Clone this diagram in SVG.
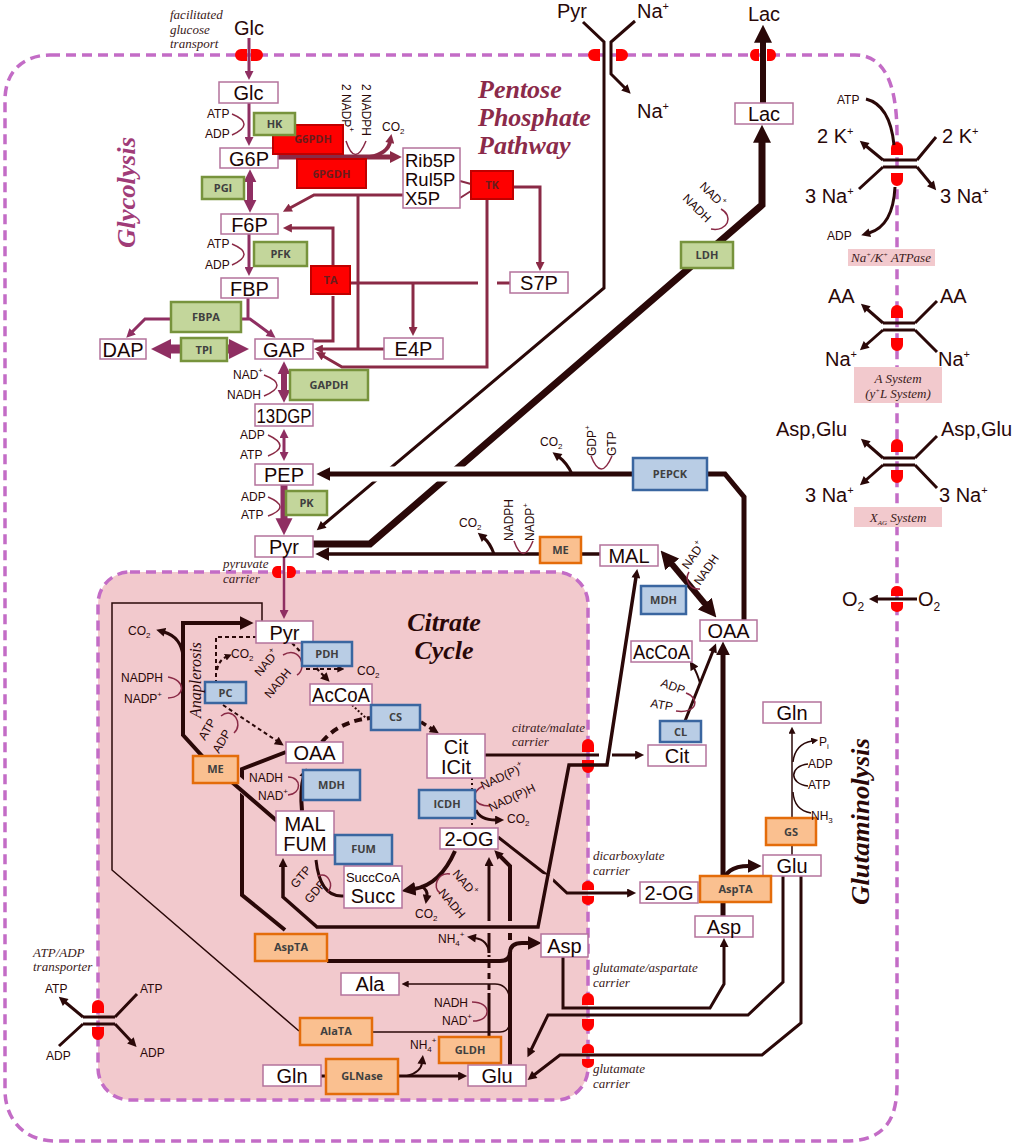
<svg xmlns="http://www.w3.org/2000/svg" width="1019" height="1145" viewBox="0 0 1019 1145">
<defs>
<style>
.nb{fill:#fff;stroke:#b4739c;stroke-width:1.5}
.nt{font-family:"Liberation Sans",Arial,sans-serif;font-size:20px;fill:#1a0505;text-anchor:middle}
.gr{fill:#c3d69b;stroke:#77933c;stroke-width:2.5}
.bl{fill:#b9cde5;stroke:#3a66a0;stroke-width:2.5}
.or{fill:#fac090;stroke:#e46c0a;stroke-width:2.5}
.rd{fill:#fe0000;stroke:#c00000;stroke-width:2}
.et{font-family:"Open Sans","Liberation Sans",sans-serif;font-weight:700;font-size:11px;fill:#404040;text-anchor:middle}
.rt{fill:#6b1c1c}
.sm{font-family:"Liberation Sans",Arial,sans-serif;font-size:12px;fill:#2a0808}
.md{font-family:"Liberation Sans",Arial,sans-serif;font-size:20px;fill:#2a0808}
.it{font-family:"Liberation Serif","Times New Roman",serif;font-style:italic;font-size:13px;fill:#3a1a20}
.tt{font-family:"Liberation Serif","Times New Roman",serif;font-style:italic;font-weight:700}
.cp{fill:none;stroke:#8f2f62}
.cm{fill:none;stroke:#8a2a46}
.cb{fill:none;stroke:#2a0808}
.cr{fill:none;stroke:#8a2a46;stroke-width:1.5}
.hw{fill:none;stroke:#fff}
.hp{fill:none;stroke:#f2c9cd}
.tr{fill:#f00}
.mem{fill:none;stroke:#c36cc6;stroke-width:3.5;stroke-dasharray:10 6}
.lb{fill:#f2c9cd}
</style>
<marker id="mP" viewBox="0 0 10 10" refX="1" refY="5" markerWidth="10" markerHeight="9" markerUnits="userSpaceOnUse" orient="auto-start-reverse"><path d="M0,0L10,5L0,10z" fill="#8f2f62"/></marker>
<marker id="mPM" viewBox="0 0 10 10" refX="1" refY="5" markerWidth="13" markerHeight="14" markerUnits="userSpaceOnUse" orient="auto-start-reverse"><path d="M0,0L10,5L0,10z" fill="#8f2f62"/></marker>
<marker id="mPL" viewBox="0 0 10 10" refX="1" refY="5" markerWidth="17" markerHeight="24" markerUnits="userSpaceOnUse" orient="auto-start-reverse"><path d="M0,0L10,5L0,10z" fill="#8f2f62"/></marker>
<marker id="mPX" viewBox="0 0 10 10" refX="1" refY="5" markerWidth="24" markerHeight="20" markerUnits="userSpaceOnUse" orient="auto-start-reverse"><path d="M0,0L10,5L0,10z" fill="#8f2f62"/></marker>
<marker id="mM" viewBox="0 0 10 10" refX="1" refY="5" markerWidth="10" markerHeight="9" markerUnits="userSpaceOnUse" orient="auto-start-reverse"><path d="M0,0L10,5L0,10z" fill="#8a2a46"/></marker>
<marker id="mML" viewBox="0 0 10 10" refX="1" refY="5" markerWidth="12" markerHeight="12" markerUnits="userSpaceOnUse" orient="auto-start-reverse"><path d="M0,0L10,5L0,10z" fill="#8a2a46"/></marker>
<marker id="mB" viewBox="0 0 10 10" refX="1" refY="5" markerWidth="10" markerHeight="9" markerUnits="userSpaceOnUse" orient="auto-start-reverse"><path d="M0,0L10,5L0,10z" fill="#2a0808"/></marker>
<marker id="mBM" viewBox="0 0 10 10" refX="1" refY="5" markerWidth="14" markerHeight="14" markerUnits="userSpaceOnUse" orient="auto-start-reverse"><path d="M0,0L10,5L0,10z" fill="#2a0808"/></marker>
<marker id="mBL" viewBox="0 0 10 10" refX="1" refY="5" markerWidth="18" markerHeight="18" markerUnits="userSpaceOnUse" orient="auto-start-reverse"><path d="M0,0L10,5L0,10z" fill="#2a0808"/></marker>
<marker id="mBs" viewBox="0 0 10 10" refX="1" refY="5" markerWidth="7" markerHeight="7" markerUnits="userSpaceOnUse" orient="auto-start-reverse"><path d="M0,0L10,5L0,10z" fill="#2a0808"/></marker>
</defs>
<rect width="1019" height="1145" fill="#fff"/>

<g id="cell-membrane">
<path class="mem" d="M50,55 H855 C885,55 897,85 897,135 V1085 C897,1125 880,1141 845,1141 H55 C25,1141 5,1120 5,1090 V100 C5,70 25,55 50,55 Z"/>
</g>
<g id="mitochondrion">
<rect x="98" y="572" width="490" height="528" rx="32" class="mem" style="fill:#f2c9cd"/>
</g>

<g id="transporter-channels">
<path class="tr" d="M247,49 H241 A6,6 0 0 0 241,61 H247 Z M251,49 H257 A6,6 0 0 1 257,61 H251 Z"/>
<path class="tr" d="M600,49 H594 A6,6 0 0 0 594,61 H600 Z M616,49 H622 A6,6 0 0 1 622,61 H616 Z"/>
<path class="tr" d="M759,49 H755 A5,6 0 0 0 755,61 H759 Z M767,49 H771 A5,6 0 0 1 771,61 H767 Z"/>
<path class="tr" d="M281,566 H277 A5,6 0 0 0 277,578 H281 Z M287,566 H291 A5,6 0 0 1 291,578 H287 Z"/>
<path class="tr" d="M891,155 V148 A6,6 0 0 1 903,148 V155 Z M891,173 V180 A6,6 0 0 0 903,180 V173 Z"/>
<path class="tr" d="M891,318 V311 A6,6 0 0 1 903,311 V318 Z M891,338 V345 A6,6 0 0 0 903,345 V338 Z"/>
<path class="tr" d="M891,452 V445 A6,6 0 0 1 903,445 V452 Z M891,470 V477 A6,6 0 0 0 903,477 V470 Z"/>
<path class="tr" d="M891,596 V591 A6,5 0 0 1 903,591 V596 Z M891,602 V607 A6,5 0 0 0 903,607 V602 Z"/>
<path class="tr" d="M582,752 V745 A6,6 0 0 1 594,745 V752 Z M582,760 V767 A6,6 0 0 0 594,767 V760 Z"/>
<path class="tr" d="M582,890 V886 A6,5 0 0 1 594,886 V890 Z M582,896 V900 A6,5 0 0 0 594,900 V896 Z"/>
<path class="tr" d="M582,1005 V999 A6,6 0 0 1 594,999 V1005 Z M582,1019 V1025 A6,6 0 0 0 594,1025 V1019 Z"/>
<path class="tr" d="M582,1053 V1049 A6,5 0 0 1 594,1049 V1053 Z M582,1059 V1063 A6,5 0 0 0 594,1063 V1059 Z"/>
<path class="tr" d="M92,1013 V1006 A6,6 0 0 1 104,1006 V1013 Z M92,1027 V1034 A6,6 0 0 0 104,1034 V1027 Z"/>
</g>

<g id="connectors">
<path class="cp" stroke-width="3" d="M249,38 V72" marker-end="url(#mP)"/>
<path class="cp" stroke-width="3" d="M249,103 V138" marker-end="url(#mP)"/>
<path class="cr" d="M232,114 Q256,124 232,135"/>
<path class="cp" stroke-width="6" d="M250,181 V201" marker-start="url(#mPM)" marker-end="url(#mPM)"/>
<path class="cp" stroke-width="3" d="M249,234 V268" marker-end="url(#mP)"/>
<path class="cr" d="M232,244 Q256,254 232,265"/>
<path class="cp" stroke-width="3" d="M248,319 V290" marker-end="url(#mP)"/>
<path class="cp" stroke-width="3" d="M171,319 H145 L132,332" marker-end="url(#mP)"/>
<path class="cp" stroke-width="3" d="M241,319 H250 L269,333" marker-end="url(#mP)"/>
<path class="cp" stroke-width="9" d="M169,349 H231" marker-start="url(#mPX)" marker-end="url(#mPX)"/>
<path class="cp" stroke-width="6" d="M284,373 V391" marker-start="url(#mPM)" marker-end="url(#mPM)"/>
<path class="cr" d="M264,375 Q290,385 264,396"/>
<path class="cp" stroke-width="3" d="M284,437 V453" marker-start="url(#mP)" marker-end="url(#mP)"/>
<path class="cr" d="M268,435 Q292,446 268,456"/>
<path class="cp" stroke-width="7" d="M284,485 V520" marker-end="url(#mPL)"/>
<path class="cr" d="M268,497 Q292,507 268,516"/>
<path class="cp" stroke-width="2.5" d="M284,557 V611" marker-end="url(#mP)"/>
<path class="cm" stroke-width="5" d="M278,157 H391" marker-end="url(#mML)"/>
<path class="cm" stroke-width="4" d="M370,157 Q388,153 390,142" marker-end="url(#mM)"/>
<path class="cr" d="M346,141 Q355,168 366,141"/>
<path class="cm" stroke-width="3" d="M403,195 H314 L290,208" marker-end="url(#mM)"/>
<path class="cm" stroke-width="3" d="M358,195 V348"/>
<path class="cm" stroke-width="3" d="M333,266 V228 H291" marker-end="url(#mM)"/>
<path class="cm" stroke-width="3" d="M333,296 V341 H313"/>
<path class="cm" stroke-width="3" d="M384,349 H322" marker-end="url(#mM)"/>
<path class="cm" stroke-width="3" d="M487,199 V367 H342 L323,356" marker-end="url(#mM)"/>
<path class="cm" stroke-width="3" d="M350,283 H478 M497,283 H510"/>
<path class="cm" stroke-width="3" d="M413,283 V328" marker-end="url(#mM)"/>
<path class="cm" stroke-width="3" d="M513,187 H540 V263" marker-end="url(#mM)"/>
<path class="cm" stroke-width="2" d="M460,181 L471,184 M460,198 L471,191"/>
<path class="cb" stroke-width="3" d="M583,22 L604,42 V288 L323,525" marker-end="url(#mB)"/>
<path class="cb" stroke-width="3" d="M635,21 L611,42 V74 L625,88" marker-end="url(#mB)"/>
<path class="cb" stroke-width="7" d="M313,544 H370 L762,205 V141" marker-end="url(#mBL)"/>
<path class="cb" stroke-width="6" d="M763,103 V41" marker-end="url(#mBL)"/>
<path class="cr" d="M721,209 C734,216 728,232 711,229"/>
<path class="cb" stroke-width="5" d="M744,620 V497 L725,474 H707"/>
<path class="hw" stroke-width="15" d="M345,474 H620"/>
<path class="cb" stroke-width="5" d="M633,474 H329" marker-end="url(#mBM)"/>
<path class="cb" stroke-width="3" d="M572,474 Q567,463 559,457" marker-end="url(#mB)"/>
<path class="cr" d="M591,456 Q601,482 612,456"/>
<path class="cb" stroke-width="3.5" d="M600,554 H581 M540,554 H328" marker-end="url(#mBM)"/>
<path class="cb" stroke-width="3" d="M494,554 Q490,543 484,538" marker-end="url(#mB)"/>
<path class="cr" d="M514,541 Q523,566 533,541"/>
<path class="cb" stroke-width="6" d="M671,563 L706,605" marker-start="url(#mBL)" marker-end="url(#mBL)"/>
<path class="cr" d="M689,572 C684,580 690,590 700,589"/>
<path class="cb" stroke-width="3" d="M485,755 H599"/>
<path class="cb" stroke-width="3" d="M612,755 H636" marker-end="url(#mB)"/>
<path class="cb" stroke-width="3" d="M685,721 L713,651" marker-end="url(#mB)"/>
<path class="cb" stroke-width="2" d="M700,683 Q697,673 694,668" marker-end="url(#mB)"/>
<path class="cr" d="M686,693 C700,698 698,714 676,711"/>
<path class="cb" stroke-width="5" d="M723,916 V654" marker-end="url(#mBM)"/>
<path class="cb" stroke-width="4" d="M723,885 Q724,866 749,866" marker-end="url(#mBM)"/>
<path class="cb" stroke-width="3" d="M563,957 V1008 H710 L724,984 V946" marker-end="url(#mB)"/>
<path class="cb" stroke-width="3" d="M783,876 V982 L748,1015 H548 L531,1050" marker-end="url(#mB)"/>
<path class="cb" stroke-width="3" d="M801,876 V1023 L762,1055 H560 L534,1075" marker-end="url(#mB)"/>
<path class="cb" stroke-width="1.5" d="M792,855 V733" marker-end="url(#mBs)"/>
<path class="cb" stroke-width="1.5" d="M811,813 Q794,810 793,792 M808,764 C789,766 789,784 808,786"/>
<path class="cb" stroke-width="1.5" d="M793,762 Q795,744 812,741" marker-end="url(#mBs)"/>
<path class="cb" stroke-width="3" d="M498,837 L553,880 L567,893 H628" marker-end="url(#mB)"/>
<path class="cb" stroke-width="3" d="M883,160 H917 M883,167 H917 M917,160 L936,137 M883,167 L859,189"/>
<path class="cb" stroke-width="3" d="M883,160 L866,146" marker-end="url(#mB)"/>
<path class="cb" stroke-width="3" d="M917,167 L931,184" marker-end="url(#mB)"/>
<path class="cb" stroke-width="3" d="M866,99 Q890,105 894,145"/>
<path class="cb" stroke-width="3" d="M895,187 Q893,226 869,233" marker-end="url(#mB)"/>
<path class="cb" stroke-width="3" d="M883,323 H915 M883,330 H915 M915,323 L937,301 M915,330 L937,352"/>
<path class="cb" stroke-width="3" d="M883,323 L867,309" marker-end="url(#mB)"/>
<path class="cb" stroke-width="3" d="M883,330 L866,345" marker-end="url(#mB)"/>
<path class="cb" stroke-width="3" d="M883,458 H915 M883,465 H915 M915,458 L937,436 M915,465 L937,488"/>
<path class="cb" stroke-width="3" d="M883,458 L867,444" marker-end="url(#mB)"/>
<path class="cb" stroke-width="3" d="M883,465 L866,480" marker-end="url(#mB)"/>
<path class="cb" stroke-width="3" d="M917,599 H877" marker-end="url(#mB)"/>
<path class="cb" stroke-width="3" d="M83,1017 H115 M83,1024 H115 M115,1017 L137,994 M83,1024 L59,1046"/>
<path class="cb" stroke-width="3" d="M83,1017 L65,1002" marker-end="url(#mB)"/>
<path class="cb" stroke-width="3" d="M115,1024 L131,1041" marker-end="url(#mB)"/>
<path class="cb" stroke-width="1.5" d="M299,1031 L112,870 V603 H262 V621"/>
<path class="cb" stroke-width="2.2" stroke-dasharray="4 3" d="M292,643 L324,676" marker-end="url(#mB)"/>
<path class="cb" stroke-width="2" stroke-dasharray="4 3" d="M306,669 H338" marker-end="url(#mBs)"/>
<path class="cr" d="M283,655 C300,645 308,668 297,675"/>
<path class="cb" stroke-width="2" stroke-dasharray="4 3" d="M257,637 H216 V682"/>
<path class="cb" stroke-width="2" stroke-dasharray="4 3" d="M217,670 Q219,660 226,657" marker-end="url(#mBs)"/>
<path class="cb" stroke-width="2" stroke-dasharray="4 3" d="M223,705 L277,741" marker-end="url(#mB)"/>
<path class="cr" d="M221,716 C233,706 244,724 234,733"/>
<path class="cb" stroke-width="2" stroke-dasharray="2 2" d="M352,705 L366,718"/>
<path class="cb" stroke-width="3.5" stroke-dasharray="6 4" d="M421,722 L432,729" marker-end="url(#mB)"/>
<path class="cb" stroke-width="4" stroke-dasharray="8 5" d="M322,742 Q338,722 370,718"/>
<path class="cb" stroke-width="2" stroke-dasharray="2 3" d="M472,778 V790 M472,818 V828"/>
<path class="cr" d="M483,786 C470,792 472,806 490,806"/>
<path class="cb" stroke-width="3" d="M476,810 Q480,820 496,820" marker-end="url(#mB)"/>
<path class="cb" stroke-width="4" d="M455,851 Q440,885 414,889" marker-end="url(#mBM)"/>
<path class="cb" stroke-width="3" d="M421,886 Q428,890 427,896" marker-end="url(#mB)"/>
<path class="cr" d="M450,874 C437,872 432,888 440,893"/>
<path class="cb" stroke-width="3" d="M344,896 Q320,898 316,860"/>
<path class="cr" d="M318,876 C328,872 334,884 328,892"/>
<path class="cb" stroke-width="4" d="M302,811 Q300,790 304,776" marker-end="url(#mB)"/>
<path class="cr" d="M288,777 C302,777 302,794 288,795"/>
<path class="cb" stroke-width="4" d="M286,752 L242,769 V895 L285,930"/>
<path class="cb" stroke-width="4" d="M327,961 H500 Q510,961 510,952"/>
<path class="cb" stroke-width="4" d="M510,1065 V953 Q510,943 522,943 H529" marker-end="url(#mBM)"/>
<path class="cb" stroke-width="4" d="M510,940 V866 L500,856" marker-end="url(#mB)"/>
<path class="cb" stroke-width="3" d="M489,1037 V993 M489,953 V865" marker-end="url(#mB)"/>
<path class="cb" stroke-width="3" stroke-dasharray="6 5" d="M489,990 V955"/>
<path class="cb" stroke-width="2" d="M489,953 Q488,940 475,938" marker-end="url(#mB)"/>
<path class="cr" d="M472,1002 C492,1002 492,1021 473,1021"/>
<path class="cb" stroke-width="1.5" d="M510,1000 Q508,984 495,984 H408" marker-end="url(#mBs)"/>
<path class="cb" stroke-width="1.5" d="M372,1032 H500 Q510,1032 510,1020"/>
<path class="cb" stroke-width="3" d="M321,1076 H326 M398,1076 H459" marker-end="url(#mB)"/>
<path class="cb" stroke-width="2" d="M407,1076 Q421,1072 422,1063" marker-end="url(#mB)"/>
<path class="hp" stroke-width="12" d="M272,812 L210,759"/>
<path class="cb" stroke-width="4" d="M277,821 L204,758 L183,735 V623 H241" marker-end="url(#mBM)"/>
<path class="cb" stroke-width="3" d="M183,656 Q181,637 164,632" marker-end="url(#mB)"/>
<path class="cr" d="M168,677 C186,680 186,697 168,698"/>
<path class="hp" stroke-width="12" d="M325,927 H538 L548,875"/>
<path class="cb" stroke-width="3.5" d="M283,866 V897 L317,927 H538 L569,765 H607 L636,577" marker-start="url(#mB)" marker-end="url(#mB)"/>
</g>

<g id="nodes">
<g id="n-glc"><rect class="nb" x="219" y="82" width="59" height="21"/><text class="nt" x="248.5" y="100">Glc</text></g>
<g id="n-g6p"><rect class="nb" x="220" y="148" width="58" height="20"/><text class="nt" x="249" y="166">G6P</text></g>
<g id="n-f6p"><rect class="nb" x="221" y="214" width="57" height="20"/><text class="nt" x="249.5" y="232">F6P</text></g>
<g id="n-fbp"><rect class="nb" x="221" y="278" width="57" height="20"/><text class="nt" x="249.5" y="296">FBP</text></g>
<g id="n-dap"><rect class="nb" x="100" y="339" width="46" height="20"/><text class="nt" x="123" y="357">DAP</text></g>
<g id="n-gap"><rect class="nb" x="255" y="339" width="58" height="20"/><text class="nt" x="284" y="357">GAP</text></g>
<g id="n-13dgp"><rect class="nb" x="255" y="404" width="58" height="22"/><text class="nt" x="284" y="423" textLength="55" lengthAdjust="spacingAndGlyphs">13DGP</text></g>
<g id="n-pep"><rect class="nb" x="255" y="464" width="58" height="21"/><text class="nt" x="284" y="482">PEP</text></g>
<g id="n-pyr"><rect class="nb" x="255" y="536" width="58" height="21"/><text class="nt" x="284" y="554">Pyr</text></g>
<g id="n-rib5p"><rect class="nb" x="403" y="148" width="57" height="60"/><text class="nt" style="text-anchor:start;font-size:18.5px"><tspan x="405" y="166.5">Rib5P</tspan><tspan x="405" y="185.8">Rul5P</tspan><tspan x="405" y="205.1">X5P</tspan></text></g>
<g id="n-s7p"><rect class="nb" x="510" y="272" width="58" height="21"/><text class="nt" x="539" y="290">S7P</text></g>
<g id="n-e4p"><rect class="nb" x="384" y="338" width="59" height="21"/><text class="nt" x="413.5" y="356">E4P</text></g>
<g id="n-lac"><rect class="nb" x="735" y="103" width="58" height="21"/><text class="nt" x="764" y="121">Lac</text></g>
<g id="n-mal-c"><rect class="nb" x="600" y="545" width="58" height="21"/><text class="nt" x="629" y="563">MAL</text></g>
<g id="n-oaa-c"><rect class="nb" x="700" y="620" width="57" height="21"/><text class="nt" x="728.5" y="638">OAA</text></g>
<g id="n-accoa-c"><rect class="nb" x="631" y="641" width="61" height="21"/><text class="nt" x="661.5" y="659" textLength="57" lengthAdjust="spacingAndGlyphs">AcCoA</text></g>
<g id="n-cit-c"><rect class="nb" x="648" y="745" width="58" height="21"/><text class="nt" x="677" y="763">Cit</text></g>
<g id="n-gln-c"><rect class="nb" x="763" y="702" width="58" height="21"/><text class="nt" x="792" y="720">Gln</text></g>
<g id="n-glu-c"><rect class="nb" x="763" y="855" width="58" height="21"/><text class="nt" x="792" y="873">Glu</text></g>
<g id="n-2og-c"><rect class="nb" x="640" y="882" width="58" height="21"/><text class="nt" x="669" y="900">2-OG</text></g>
<g id="n-asp-c"><rect class="nb" x="695" y="916" width="58" height="21"/><text class="nt" x="724" y="934">Asp</text></g>
<g id="n-pyr-m"><rect class="nb" x="256" y="621" width="57" height="22"/><text class="nt" x="284.5" y="640">Pyr</text></g>
<g id="n-accoa-m"><rect class="nb" x="310" y="684" width="62" height="21"/><text class="nt" x="341" y="702" textLength="58" lengthAdjust="spacingAndGlyphs">AcCoA</text></g>
<g id="n-cit-m"><rect class="nb" x="427" y="734" width="58" height="44"/><text class="nt"><tspan x="456" y="754">Cit</tspan><tspan x="456" y="774">ICit</tspan></text></g>
<g id="n-2og-m"><rect class="nb" x="440" y="828" width="58" height="21"/><text class="nt" x="469" y="846">2-OG</text></g>
<g id="n-malfum-m"><rect class="nb" x="276" y="811" width="58" height="44"/><text class="nt"><tspan x="305" y="831">MAL</tspan><tspan x="305" y="851">FUM</tspan></text></g>
<g id="n-oaa-m"><rect class="nb" x="286" y="742" width="57" height="21"/><text class="nt" x="314.5" y="760">OAA</text></g>
<g id="n-succ-m"><rect class="nb" x="344" y="866" width="58" height="42"/><text class="nt"><tspan x="373" y="882" style="font-size:13px">SuccCoA</tspan><tspan x="373" y="903">Succ</tspan></text></g>
<g id="n-asp-m"><rect class="nb" x="541" y="934" width="47" height="23"/><text class="nt" x="564.5" y="953">Asp</text></g>
<g id="n-ala-m"><rect class="nb" x="341" y="973" width="58" height="22"/><text class="nt" x="370" y="991">Ala</text></g>
<g id="n-gln-m"><rect class="nb" x="263" y="1065" width="58" height="21"/><text class="nt" x="292" y="1083">Gln</text></g>
<g id="n-glu-m"><rect class="nb" x="468" y="1065" width="58" height="21"/><text class="nt" x="497" y="1083">Glu</text></g>
</g>

<g id="enzymes">
<g id="e-g6pdh"><rect class="rd" x="273" y="125" width="70" height="29"/><text class="et rt" x="313" y="143">G6PDH</text></g>
<g id="e-6pgdh"><rect class="rd" x="297" y="159" width="69" height="29"/><text class="et rt" x="331.5" y="178">6PGDH</text></g>
<g id="e-tk"><rect class="rd" x="471" y="171" width="42" height="28"/><text class="et rt" x="492" y="189">TK</text></g>
<g id="e-ta"><rect class="rd" x="311" y="266" width="39" height="28"/><text class="et rt" x="330.5" y="284">TA</text></g>
<g id="e-hk"><rect class="gr" x="254" y="113" width="41" height="22"/><text class="et" x="274.5" y="128">HK</text></g>
<g id="e-pgi"><rect class="gr" x="202" y="177" width="42" height="22"/><text class="et" x="223" y="192">PGI</text></g>
<g id="e-pfk"><rect class="gr" x="254" y="242" width="53" height="24"/><text class="et" x="280.5" y="258">PFK</text></g>
<g id="e-fbpa"><rect class="gr" x="171" y="302" width="70" height="30"/><text class="et" x="206" y="321">FBPA</text></g>
<g id="e-tpi"><rect class="gr" x="181" y="338" width="46" height="23"/><text class="et" x="204" y="354">TPI</text></g>
<g id="e-gapdh"><rect class="gr" x="290" y="370" width="78" height="30"/><text class="et" x="329" y="389">GAPDH</text></g>
<g id="e-pk"><rect class="gr" x="286" y="491" width="41" height="24"/><text class="et" x="306.5" y="507">PK</text></g>
<g id="e-ldh"><rect class="gr" x="681" y="242" width="52" height="26"/><text class="et" x="707" y="259">LDH</text></g>
<g id="e-pepck"><rect class="bl" x="633" y="458" width="74" height="32"/><text class="et" x="670" y="478">PEPCK</text></g>
<g id="e-me-c"><rect class="or" x="540" y="537" width="41" height="26"/><text class="et" x="560.5" y="554">ME</text></g>
<g id="e-mdh-c"><rect class="bl" x="641" y="586" width="45" height="28"/><text class="et" x="663.5" y="604">MDH</text></g>
<g id="e-cl"><rect class="bl" x="660" y="721" width="41" height="21"/><text class="et" x="680.5" y="736">CL</text></g>
<g id="e-gs"><rect class="or" x="766" y="818" width="50" height="27"/><text class="et" x="791" y="836">GS</text></g>
<g id="e-asptac"><rect class="or" x="700" y="876" width="71" height="26"/><text class="et" x="735.5" y="893">AspTA</text></g>
<g id="e-pdh"><rect class="bl" x="302" y="642" width="50" height="24"/><text class="et" x="327" y="658">PDH</text></g>
<g id="e-pc"><rect class="bl" x="205" y="682" width="41" height="21"/><text class="et" x="225.5" y="697">PC</text></g>
<g id="e-cs"><rect class="bl" x="371" y="705" width="49" height="25"/><text class="et" x="395.5" y="721">CS</text></g>
<g id="e-icdh"><rect class="bl" x="419" y="790" width="56" height="28"/><text class="et" x="447" y="808">ICDH</text></g>
<g id="e-fum"><rect class="bl" x="335" y="835" width="57" height="29"/><text class="et" x="363.5" y="853">FUM</text></g>
<g id="e-mdh-m"><rect class="bl" x="303" y="770" width="57" height="30"/><text class="et" x="331.5" y="789">MDH</text></g>
<g id="e-me-m"><rect class="or" x="193" y="756" width="45" height="27"/><text class="et" x="215.5" y="773">ME</text></g>
<g id="e-aspta-m"><rect class="or" x="255" y="934" width="72" height="27"/><text class="et" x="291" y="951">AspTA</text></g>
<g id="e-alata"><rect class="or" x="300" y="1018" width="72" height="27"/><text class="et" x="336" y="1035">AlaTA</text></g>
<g id="e-gldh"><rect class="or" x="439" y="1037" width="62" height="26"/><text class="et" x="470" y="1054">GLDH</text></g>
<g id="e-glnase"><rect class="or" x="326" y="1059" width="72" height="35"/><text class="et" x="362" y="1080">GLNase</text></g>
</g>

<g id="labels">
<text class="md" x="249" y="35" text-anchor="middle" font-size="22">Glc</text>
<text class="md" x="572" y="18" text-anchor="middle">Pyr</text>
<text class="md" x="637" y="18">Na<tspan font-size="11" dy="-8">+</tspan></text>
<text class="md" x="637" y="118">Na<tspan font-size="11" dy="-8">+</tspan></text>
<text class="md" x="764" y="21" text-anchor="middle" font-size="22">Lac</text>
<text class="it"><tspan x="170" y="19">facilitated</tspan><tspan x="170" y="34">glucose</tspan><tspan x="170" y="48">transport</tspan></text>
<text class="sm" x="207" y="118">ATP</text><text class="sm" x="205" y="138">ADP</text>
<text class="sm" x="207" y="248">ATP</text><text class="sm" x="205" y="269">ADP</text>
<text class="sm" x="233" y="379">NAD<tspan font-size="8" dy="-6">+</tspan></text>
<text class="sm" x="227" y="399">NADH</text>
<text class="sm" x="240" y="439">ADP</text><text class="sm" x="240" y="459">ATP</text>
<text class="sm" x="241" y="501">ADP</text><text class="sm" x="241" y="519">ATP</text>
<text class="sm" font-size="14" transform="translate(342,84) rotate(90)">2 NADP<tspan font-size="8" dy="-7">+</tspan></text>
<text class="sm" font-size="14" transform="translate(362,84) rotate(90)">2 NADPH</text>
<text class="sm" x="382" y="131">CO<tspan font-size="8" dy="3">2</tspan></text>
<text class="tt" font-size="26" fill="#8b2a4a"><tspan x="478" y="98">Pentose</tspan><tspan x="478" y="126">Phosphate</tspan><tspan x="478" y="154">Pathway</tspan></text>
<text class="tt" font-size="25" fill="#a03c78" transform="translate(135,248) rotate(-90)" textLength="111" lengthAdjust="spacingAndGlyphs">Glycolysis</text>
<text class="tt" font-size="25" fill="#2a0808" transform="translate(869,905) rotate(-90)" textLength="167" lengthAdjust="spacingAndGlyphs">Glutaminolysis</text>
<text class="tt" font-size="26" fill="#2a0808" text-anchor="middle"><tspan x="444" y="631">Citrate</tspan><tspan x="444" y="659">Cycle</tspan></text>
<text class="sm" transform="translate(699,187) rotate(45)">NAD<tspan font-size="8" dy="-6">+</tspan></text>
<text class="sm" transform="translate(682,199) rotate(45)">NADH</text>
<text class="sm" x="540" y="446">CO<tspan font-size="8" dy="3">2</tspan></text>
<text class="sm" transform="translate(596,456) rotate(-90)">GDP<tspan font-size="8" dy="-6">+</tspan></text>
<text class="sm" transform="translate(616,456) rotate(-90)">GTP</text>
<text class="sm" x="459" y="527">CO<tspan font-size="8" dy="3">2</tspan></text>
<text class="sm" transform="translate(513,541) rotate(-90)">NADPH</text>
<text class="sm" transform="translate(534,541) rotate(-90)">NADP<tspan font-size="8" dy="-6">+</tspan></text>
<text class="sm" transform="translate(688,570) rotate(-55)">NAD<tspan font-size="8" dy="-6">+</tspan></text>
<text class="sm" transform="translate(700,586) rotate(-55)">NADH</text>
<text class="sm" transform="translate(660,686) rotate(20)">ADP</text>
<text class="sm" transform="translate(650,707) rotate(10)">ATP</text>
<text class="sm" x="819" y="746">P<tspan font-size="8" dy="3">i</tspan></text>
<text class="sm" x="808" y="768">ADP</text>
<text class="sm" x="808" y="789">ATP</text>
<text class="sm" x="811" y="820">NH<tspan font-size="8" dy="3">3</tspan></text>
<text class="md" x="817" y="143">2 K<tspan font-size="11" dy="-8">+</tspan></text>
<text class="md" x="942" y="143">2 K<tspan font-size="11" dy="-8">+</tspan></text>
<text class="md" x="805" y="203">3 Na<tspan font-size="11" dy="-8">+</tspan></text>
<text class="md" x="940" y="203">3 Na<tspan font-size="11" dy="-8">+</tspan></text>
<text class="sm" x="837" y="104">ATP</text>
<text class="sm" x="827" y="240">ADP</text>
<rect class="lb" x="848" y="249" width="87" height="17"/>
<text class="it" x="891" y="262" text-anchor="middle" font-size="12">Na<tspan font-size="7" dy="-5">+</tspan><tspan dy="5">/K</tspan><tspan font-size="7" dy="-5">+</tspan><tspan dy="5"> ATPase</tspan></text>
<text class="md" x="828" y="303">AA</text>
<text class="md" x="940" y="303">AA</text>
<text class="md" x="825" y="366">Na<tspan font-size="11" dy="-8">+</tspan></text>
<text class="md" x="938" y="366">Na<tspan font-size="11" dy="-8">+</tspan></text>
<rect class="lb" x="854" y="367" width="88" height="36"/>
<text class="it" text-anchor="middle" font-size="12"><tspan x="898" y="383">A System</tspan><tspan x="898" y="398">(y</tspan><tspan font-size="7" dy="-5">+</tspan><tspan dy="5">L System)</tspan></text>
<text class="md" x="776" y="436">Asp,Glu</text>
<text class="md" x="941" y="436">Asp,Glu</text>
<text class="md" x="805" y="502">3 Na<tspan font-size="11" dy="-8">+</tspan></text>
<text class="md" x="939" y="502">3 Na<tspan font-size="11" dy="-8">+</tspan></text>
<rect class="lb" x="854" y="507" width="88" height="20"/>
<text class="it" x="898" y="522" text-anchor="middle" font-size="12">X<tspan font-size="7" dy="3">AG</tspan><tspan dy="-3"> System</tspan></text>
<text class="md" x="842" y="606">O<tspan font-size="12" dy="5">2</tspan></text>
<text class="md" x="918" y="606">O<tspan font-size="12" dy="5">2</tspan></text>
<text class="it"><tspan x="223" y="568">pyruvate</tspan><tspan x="223" y="583">carrier</tspan></text>
<text class="it"><tspan x="512" y="732">citrate/malate</tspan><tspan x="512" y="746">carrier</tspan></text>
<text class="it"><tspan x="593" y="860">dicarboxylate</tspan><tspan x="593" y="875">carrier</tspan></text>
<text class="it"><tspan x="593" y="972">glutamate/aspartate</tspan><tspan x="593" y="987">carrier</tspan></text>
<text class="it"><tspan x="593" y="1073">glutamate</tspan><tspan x="593" y="1088">carrier</tspan></text>
<text class="it"><tspan x="33" y="957">ATP/ADP</tspan><tspan x="33" y="971">transporter</tspan></text>
<text class="sm" x="45" y="993">ATP</text>
<text class="sm" x="140" y="993">ATP</text>
<text class="sm" x="46" y="1060">ADP</text>
<text class="sm" x="140" y="1057">ADP</text>
<text class="sm" x="128" y="635">CO<tspan font-size="8" dy="3">2</tspan></text>
<text class="sm" x="121" y="682">NADPH</text>
<text class="sm" x="124" y="703">NADP<tspan font-size="8" dy="-6">+</tspan></text>
<text class="tt" font-size="16" fill="#2a0808" style="font-weight:400" transform="translate(201,718) rotate(-90)">Anaplerosis</text>
<text class="sm" x="231" y="658">CO<tspan font-size="8" dy="3">2</tspan></text>
<text class="sm" transform="translate(260,677) rotate(-50)">NAD<tspan font-size="8" dy="-6">+</tspan></text>
<text class="sm" transform="translate(270,699) rotate(-50)">NADH</text>
<text class="sm" x="357" y="675">CO<tspan font-size="8" dy="3">2</tspan></text>
<text class="sm" transform="translate(205,741) rotate(-60)">ATP</text>
<text class="sm" transform="translate(219,754) rotate(-60)">ADP</text>
<text class="sm" x="249" y="782">NADH</text>
<text class="sm" x="258" y="800">NAD<tspan font-size="8" dy="-6">+</tspan></text>
<text class="sm" transform="translate(483,790) rotate(-25)">NAD(P)<tspan font-size="8" dy="-6">+</tspan></text>
<text class="sm" transform="translate(491,812) rotate(-25)">NAD(P)H</text>
<text class="sm" x="507" y="823">CO<tspan font-size="8" dy="3">2</tspan></text>
<text class="sm" transform="translate(452,874) rotate(50)">NAD<tspan font-size="8" dy="-6">+</tspan></text>
<text class="sm" transform="translate(438,893) rotate(50)">NADH</text>
<text class="sm" x="415" y="918">CO<tspan font-size="8" dy="3">2</tspan></text>
<text class="sm" transform="translate(296,889) rotate(-50)">GTP</text>
<text class="sm" transform="translate(310,904) rotate(-50)">GDP</text>
<text class="sm" x="438" y="943">NH<tspan font-size="8" dy="3">4</tspan><tspan font-size="8" dy="-9">+</tspan></text>
<text class="sm" x="434" y="1007">NADH</text>
<text class="sm" x="442" y="1025">NAD<tspan font-size="8" dy="-6">+</tspan></text>
<text class="sm" x="410" y="1049">NH<tspan font-size="8" dy="3">4</tspan><tspan font-size="8" dy="-9">+</tspan></text>
</g>
</svg>
